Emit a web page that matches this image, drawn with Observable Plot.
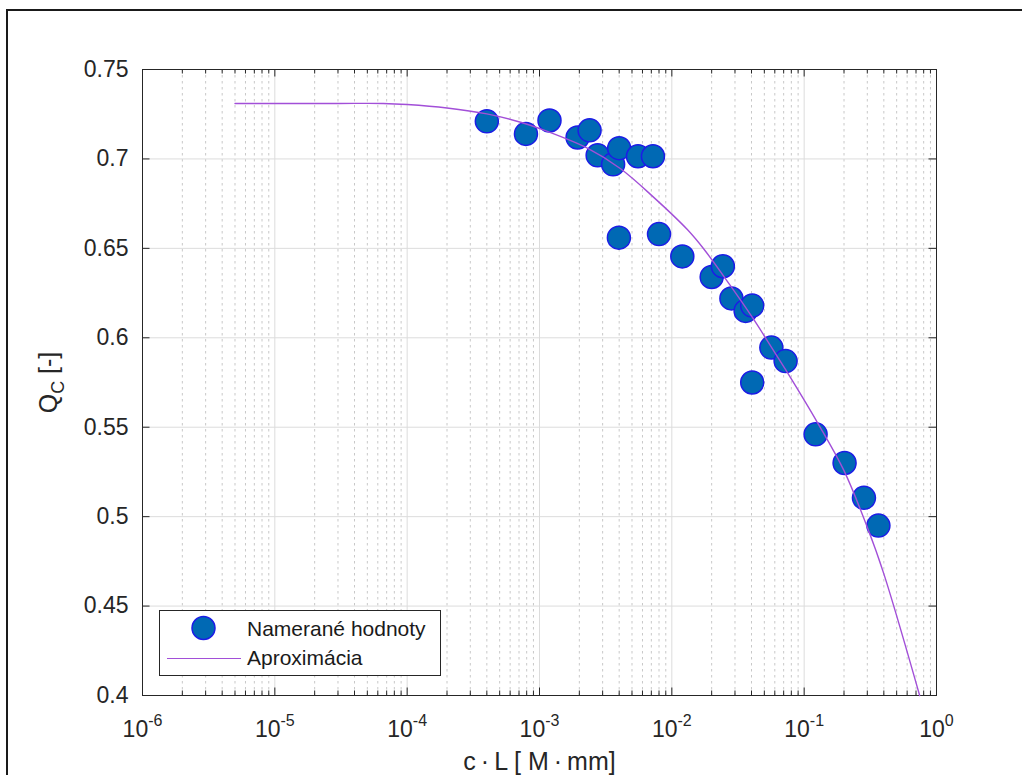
<!DOCTYPE html>
<html>
<head>
<meta charset="utf-8">
<script src="https://cdn.jsdelivr.net/npm/d3@7"></script>
<script src="https://cdn.jsdelivr.net/npm/@observablehq/plot@0.6"></script>
<style>
  html, body { margin: 0; padding: 0; background: #fff; }
  #wrap { position: relative; width: 1022px; height: 775px; overflow: hidden; background: #fff; }
  #outer { position: absolute; left: 6px; top: 9px; width: 1100px; height: 900px; border: 2px solid #1a1a1a; box-sizing: border-box; }
  #chart { position: absolute; left: 0; top: 0; }
  #legend { position: absolute; left: 0; top: 0; pointer-events: none; }
</style>
</head>
<body>
<div id="wrap">
  <div id="outer"></div>
  <div id="chart"></div>
</div>
<script>
// Measured values: concentration × path length vs. Q_C
const cL = [4.0e-4, 7.9e-4, 1.19e-3, 1.94e-3, 2.39e-3, 2.75e-3, 3.6e-3, 4.0e-3, 5.55e-3, 7.2e-3,
            3.98e-3, 8.0e-3, 0.012, 0.020, 0.0243, 0.0282, 0.0361, 0.0405, 0.0565, 0.0724,
            0.0405, 0.122, 0.202, 0.283, 0.364];
const Qc = [0.721, 0.714, 0.7215, 0.712, 0.716, 0.702, 0.697, 0.706, 0.7015, 0.7015,
            0.656, 0.658, 0.6455, 0.634, 0.640, 0.622, 0.615, 0.618, 0.5945, 0.587,
            0.575, 0.546, 0.530, 0.5105, 0.495];

// Approximation curve
const fitX = [5e-6, 1e-5, 3e-5, 6.6e-5, 1e-4, 2e-4, 4e-4, 7.2e-4, 1e-3, 2.3e-3, 4.1e-3, 7.3e-3,
              0.0131, 0.0175, 0.0278, 0.0405, 0.0565, 0.0724, 0.126, 0.2, 0.3, 0.4, 0.746];
const fitY = [0.731, 0.731, 0.731, 0.731, 0.7304, 0.7285, 0.7252, 0.7205, 0.7170, 0.7060, 0.6945, 0.6785,
              0.6605, 0.6495, 0.6290, 0.6115, 0.5948, 0.5822, 0.5526, 0.5257, 0.494, 0.468, 0.400];

// Axis ticks
const xDecades = [1e-6, 1e-5, 1e-4, 1e-3, 1e-2, 1e-1, 1];
const xMinor = xDecades.slice(0, -1).flatMap(d => [2, 3, 4, 5, 6, 7, 8, 9].map(k => k * d));
const yTicks = [0.4, 0.45, 0.5, 0.55, 0.6, 0.65, 0.7, 0.75];

const xLabel = "c\u2009·\u2009L [ M\u2009·\u2009mm]";
const yLabel = "Q_C [-]";
const legendLabels = ["Namerané hodnoty", "Aproximácia"];

const points = cL.map((x, i) => ({x, y: Qc[i]}));
const fit = fitX.map((x, i) => ({x, y: fitY[i]}));

const W = 1022, H = 775;
const mL = 142, mR = 86, mT = 69, mB = 80;
const innerW = W - mL - mR, innerH = H - mT - mB;

const ink = "#262626";
const dotFill = "#0069b4";
const dotStroke = "#1c1ce6";
const curveColor = "#a24fd8";

const plot = Plot.plot({
  width: W,
  height: H,
  marginLeft: mL, marginRight: mR, marginTop: mT, marginBottom: mB,
  style: {fontFamily: "'Liberation Sans', Arial, Helvetica, sans-serif", color: ink, background: "transparent"},
  x: {type: "log", domain: [1e-6, 1]},
  y: {domain: [0.4, 0.75]},
  marks: [
    // grid
    Plot.ruleX(xMinor, {x: d => d, stroke: "#c8c8c8", strokeWidth: 1, strokeDasharray: "2.5,3.5"}),
    Plot.ruleX(xDecades, {x: d => d, stroke: "#dcdcdc", strokeWidth: 1}),
    Plot.ruleY(yTicks, {y: d => d, stroke: "#dcdcdc", strokeWidth: 1}),
    // inward ticks
    Plot.tickX(xDecades, {x: d => d, insetTop: innerH - 7.5, stroke: ink}),
    Plot.tickX(xDecades, {x: d => d, insetBottom: innerH - 7.5, stroke: ink}),
    Plot.tickX(xMinor, {x: d => d, insetTop: innerH - 4.5, stroke: ink}),
    Plot.tickX(xMinor, {x: d => d, insetBottom: innerH - 4.5, stroke: ink}),
    Plot.tickY(yTicks, {y: d => d, insetRight: innerW - 7.5, stroke: ink}),
    Plot.tickY(yTicks, {y: d => d, insetLeft: innerW - 7.5, stroke: ink}),
    Plot.frame({stroke: ink, strokeWidth: 1}),
    // tick labels
    Plot.axisX({ticks: xDecades, tickSize: 0, tickPadding: 25, fontSize: 23,
                tickFormat: d => "10^" + Math.round(Math.log10(d)), label: null}),
    Plot.axisY({ticks: yTicks, tickSize: 0, tickPadding: 14, fontSize: 23,
                tickFormat: d => String(+d.toFixed(2)), label: null}),
    // axis titles
    Plot.text([xLabel], {frameAnchor: "bottom", dy: 66, fontSize: 25, textAnchor: "middle", lineAnchor: "middle", fill: ink}),
    Plot.text([yLabel], {frameAnchor: "left", dx: -94, rotate: -90, fontSize: 25, textAnchor: "middle", lineAnchor: "middle", fill: ink}),
    // data
    Plot.dot(points, {x: "x", y: "y", r: 11.5, fill: dotFill, stroke: dotStroke, strokeWidth: 1.5}),
    Plot.line(fit, {x: "x", y: "y", stroke: curveColor, strokeWidth: 1.4, curve: "catmull-rom"})
  ]
});

// Superscript exponents and subscript index in labels
d3.select(plot).selectAll("text").each(function () {
  const t = d3.select(this);
  const s = this.textContent;
  if (s.startsWith("10^")) {
    const exp = s.slice(3);
    t.text("10");
    t.append("tspan").attr("dy", -11).attr("font-size", 16).text(exp);
  } else if (s === yLabel) {
    t.text("Q");
    t.append("tspan").attr("dy", 7).attr("font-size", 18).text("C");
    t.append("tspan").attr("dy", -7).text(" [-]");
  }
});

document.getElementById("chart").appendChild(plot);

// Legend box
const leg = d3.select("#wrap").append("svg")
  .attr("id", "legend").attr("width", W).attr("height", H)
  .style("font-family", "'Liberation Sans', Arial, Helvetica, sans-serif");
leg.append("rect").attr("x", 159.5).attr("y", 610.5).attr("width", 281).attr("height", 65)
  .attr("fill", "#fff").attr("stroke", ink).attr("stroke-width", 1);
leg.append("circle").attr("cx", 203.5).attr("cy", 628).attr("r", 11.5)
  .attr("fill", dotFill).attr("stroke", dotStroke).attr("stroke-width", 1.5);
leg.append("text").attr("x", 247).attr("y", 636).attr("font-size", 21).attr("fill", "#1a1a1a").text(legendLabels[0]);
leg.append("line").attr("x1", 167).attr("x2", 241).attr("y1", 658.5).attr("y2", 658.5)
  .attr("stroke", curveColor).attr("stroke-width", 1.2);
leg.append("text").attr("x", 247).attr("y", 665).attr("font-size", 21).attr("fill", "#1a1a1a").text(legendLabels[1]);
</script>
</body>
</html>
